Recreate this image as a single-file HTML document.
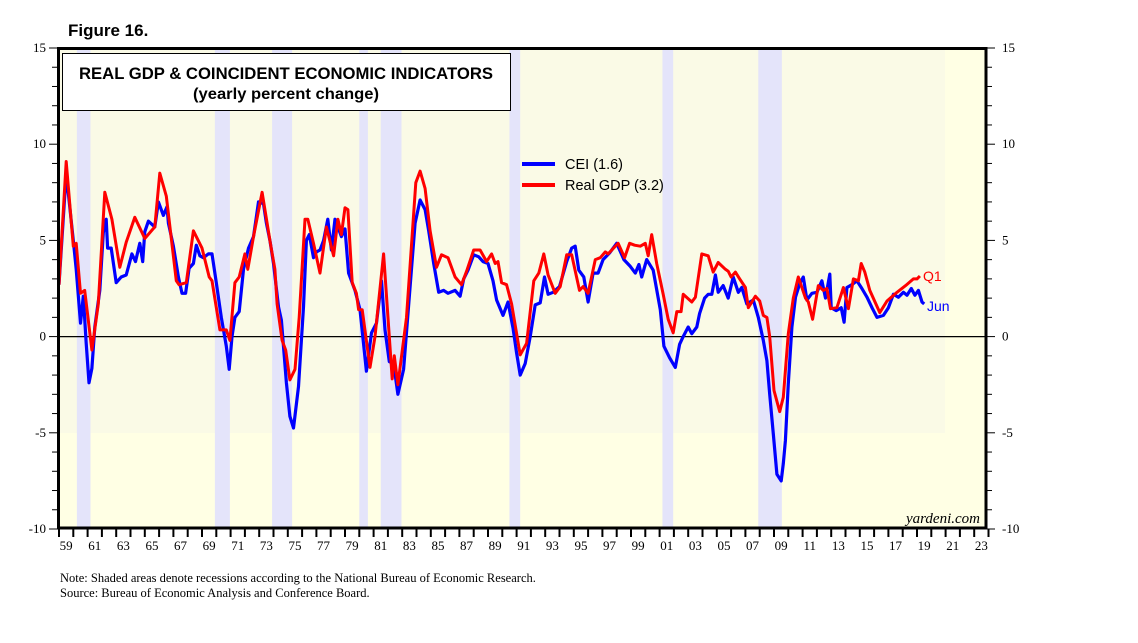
<!DOCTYPE html>
<html><head><meta charset="utf-8">
<style>
body{margin:0;background:#fff;width:1138px;height:643px;overflow:hidden;}
svg{display:block;}
</style></head>
<body>
<svg id="chart" width="1138" height="643" xmlns="http://www.w3.org/2000/svg">
<text x="68" y="36" font-family="Liberation Sans, sans-serif" font-weight="bold" font-size="17">Figure 16.</text>
<rect x="57" y="48" width="930" height="481" fill="#ffffe4"/>
<rect x="57" y="48" width="888" height="385" fill="#fafae6"/>
<g id="recessions"></g>
<g id="ticks"></g>
<line x1="57" x2="987" y1="336.6" y2="336.6" stroke="#000" stroke-width="1.2"/>
<g id="series"></g>
<rect x="58.5" y="48.5" width="927.5" height="479.5" fill="none" stroke="#000" stroke-width="3"/>
<rect x="62.5" y="53.5" width="448" height="57" fill="#fff" stroke="#000" stroke-width="1"/>
<text x="286" y="79" text-anchor="middle" font-family="Liberation Sans, sans-serif" font-weight="bold" font-size="17" textLength="414" lengthAdjust="spacingAndGlyphs">REAL GDP &amp; COINCIDENT ECONOMIC INDICATORS</text>
<text x="286" y="99" text-anchor="middle" font-family="Liberation Sans, sans-serif" font-weight="bold" font-size="16" textLength="186" lengthAdjust="spacingAndGlyphs">(yearly percent change)</text>
<g>
<line x1="522" x2="555" y1="164" y2="164" stroke="#0000ff" stroke-width="4"/>
<text x="565" y="169" font-family="Liberation Sans, sans-serif" font-size="14.5">CEI (1.6)</text>
<line x1="522" x2="555" y1="185" y2="185" stroke="#ff0000" stroke-width="4"/>
<text x="565" y="190" font-family="Liberation Sans, sans-serif" font-size="14.5">Real GDP (3.2)</text>
</g>
<text x="923" y="281" fill="#ff0000" font-family="Liberation Sans, sans-serif" font-size="14">Q1</text>
<text x="927" y="311" fill="#0000ff" font-family="Liberation Sans, sans-serif" font-size="14">Jun</text>
<text x="980" y="523" text-anchor="end" font-family="Liberation Serif, serif" font-style="italic" font-size="15">yardeni.com</text>
<text x="60" y="582" font-family="Liberation Serif, serif" font-size="12.5">Note: Shaded areas denote recessions according to the National Bureau of Economic Research.</text>
<text x="60" y="597" font-family="Liberation Serif, serif" font-size="12.5">Source: Bureau of Economic Analysis and Conference Board.</text>
</svg>
<script>
const recStart=[1960.25,1969.9,1973.9,1980.0,1981.5,1990.5,2001.2,2007.9];
const recEnd=[1961.2,1970.95,1975.3,1980.6,1982.95,1991.25,2001.95,2009.55];
const yTicks=[-10,-5,0,5,10,15];
const xYears=[];for(let y=1959;y<=2023;y+=2)xYears.push(y);
const gdpT=[1959.0,1959.5,1960.0,1960.2,1960.5,1960.8,1961.3,1961.75,1962.2,1962.7,1963.25,1963.7,1964.3,1965.0,1965.7,1966.05,1966.5,1967.2,1967.4,1967.9,1968.4,1969.0,1969.5,1969.7,1970.25,1970.7,1970.95,1971.3,1971.6,1972.0,1972.2,1972.6,1973.2,1973.75,1974.1,1974.25,1974.6,1974.85,1975.15,1975.5,1975.8,1976.2,1976.4,1976.8,1977.25,1977.7,1978.2,1978.5,1978.75,1979.0,1979.2,1979.5,1979.8,1979.95,1980.2,1980.75,1981.1,1981.7,1982.3,1982.45,1982.7,1983.3,1983.95,1984.25,1984.6,1984.95,1985.4,1985.75,1986.2,1986.7,1987.15,1987.5,1988.0,1988.45,1988.9,1989.25,1989.5,1989.7,1989.95,1990.3,1990.65,1991.25,1991.7,1992.2,1992.55,1992.9,1993.2,1993.7,1994.05,1994.5,1994.85,1995.4,1995.65,1996.0,1996.5,1996.85,1997.2,1997.4,1998.1,1998.55,1998.9,1999.25,1999.65,2000.0,2000.2,2000.45,2000.8,2001.25,2001.6,2001.95,2002.2,2002.5,2002.65,2003.25,2003.5,2003.95,2004.4,2004.75,2005.1,2005.6,2005.8,2006.0,2006.3,2006.6,2007.0,2007.2,2007.7,2008.0,2008.25,2008.5,2008.7,2009.0,2009.4,2009.65,2010.0,2010.35,2010.7,2011.2,2011.4,2011.7,2012.1,2012.45,2012.7,2012.95,2013.4,2013.85,2014.2,2014.55,2014.9,2015.1,2015.35,2015.7,2016.4,2016.9,2017.6,2018.2,2018.75,2019.0,2019.2];
const gdpV=[2.7,9.1,4.7,4.85,2.25,2.4,-0.7,1.7,7.5,6.1,3.6,4.9,6.2,5.1,5.7,8.5,7.3,2.9,2.7,2.8,5.5,4.6,3.1,2.9,0.35,0.35,-0.2,2.8,3.1,4.3,3.5,5.2,7.5,5.0,3.5,1.7,-0.2,-0.7,-2.25,-1.7,1.0,6.1,6.1,4.85,3.3,5.7,4.2,6.1,5.3,6.7,6.6,2.8,2.25,1.4,1.4,-1.6,0.0,4.3,-2.2,-1.0,-2.5,1.0,8.0,8.6,7.7,5.5,3.6,4.25,4.1,3.1,2.7,3.4,4.5,4.5,3.9,4.3,3.8,3.9,2.8,2.7,1.7,-0.95,-0.35,2.9,3.3,4.3,3.2,2.25,2.6,4.25,4.25,2.4,2.6,2.25,4.0,4.1,4.4,4.3,4.85,4.1,4.85,4.75,4.7,4.85,4.2,5.3,3.8,2.2,0.9,0.2,1.3,1.3,2.2,1.8,2.05,4.3,4.2,3.35,3.85,3.5,3.4,3.1,3.35,3.0,2.55,1.5,2.1,1.85,1.1,1.0,0.0,-2.8,-3.9,-3.15,0.15,2.0,3.1,2.0,1.8,0.9,2.65,2.4,2.5,1.45,1.5,2.55,1.45,3.0,2.9,3.8,3.35,2.4,1.25,1.85,2.3,2.65,3.0,3.0,3.15];
const ceiT=[1959.0,1959.5,1960.0,1960.2,1960.5,1960.7,1960.9,1961.1,1961.3,1961.5,1961.85,1962.1,1962.3,1962.4,1962.65,1963.0,1963.35,1963.7,1964.1,1964.35,1964.65,1964.85,1965.0,1965.25,1965.7,1965.95,1966.3,1966.55,1966.65,1967.0,1967.35,1967.6,1967.85,1968.1,1968.4,1968.6,1968.85,1969.1,1969.45,1969.7,1970.0,1970.35,1970.7,1970.9,1971.1,1971.3,1971.6,1971.9,1972.25,1972.6,1972.8,1972.95,1973.3,1973.5,1973.75,1974.0,1974.35,1974.55,1974.9,1975.15,1975.4,1975.75,1976.1,1976.3,1976.5,1976.8,1977.0,1977.25,1977.5,1977.8,1978.05,1978.3,1978.75,1979.0,1979.25,1979.7,1980.05,1980.5,1980.85,1981.2,1981.55,1981.8,1982.1,1982.4,1982.7,1983.1,1983.55,1983.9,1984.25,1984.6,1984.85,1985.2,1985.55,1985.9,1986.2,1986.7,1987.05,1987.3,1987.6,1988.0,1988.35,1988.65,1989.0,1989.35,1989.6,1990.05,1990.4,1990.75,1991.0,1991.25,1991.6,1991.95,1992.3,1992.65,1992.95,1993.2,1993.55,1994.0,1994.5,1994.85,1995.1,1995.35,1995.7,1996.0,1996.35,1996.7,1997.05,1997.5,1998.0,1998.5,1998.95,1999.3,1999.55,1999.75,2000.1,2000.55,2001.05,2001.3,2001.7,2002.1,2002.4,2002.65,2003.0,2003.25,2003.6,2003.8,2004.15,2004.4,2004.65,2004.9,2005.1,2005.45,2005.8,2006.15,2006.5,2006.75,2007.1,2007.55,2007.9,2008.25,2008.5,2008.7,2008.95,2009.2,2009.5,2009.65,2009.8,2010.0,2010.25,2010.5,2010.8,2011.05,2011.3,2011.65,2012.0,2012.35,2012.6,2012.9,2013.0,2013.35,2013.7,2013.9,2014.1,2014.45,2014.8,2015.15,2015.5,2015.85,2016.2,2016.65,2017.0,2017.35,2017.7,2018.05,2018.3,2018.6,2018.85,2019.1,2019.35,2019.5];
const ceiV=[2.7,8.5,5.0,3.5,0.7,2.1,-0.35,-2.4,-1.65,0.5,2.4,5.4,6.1,4.6,4.6,2.8,3.1,3.2,4.3,3.9,4.85,3.9,5.45,6.0,5.7,7.0,6.3,6.75,5.9,4.7,3.1,2.25,2.25,3.55,3.8,4.75,4.2,4.1,4.3,4.3,2.8,1.0,-0.5,-1.7,0.0,1.0,1.3,3.5,4.6,5.2,6.2,7.0,6.9,5.9,5.0,3.8,1.55,0.85,-2.4,-4.15,-4.75,-2.6,1.55,5.0,5.3,4.1,4.4,4.5,5.0,6.1,4.5,6.1,5.2,5.6,3.3,2.4,1.4,-1.8,0.2,0.7,2.9,0.35,-1.3,-1.4,-3.0,-1.7,2.6,5.9,7.1,6.6,5.5,3.8,2.3,2.4,2.25,2.4,2.1,3.0,3.45,4.25,4.15,3.9,3.8,2.9,1.9,1.1,1.8,0.45,-0.85,-2.0,-1.4,0.0,1.65,1.75,3.1,2.2,2.3,2.6,3.9,4.6,4.7,3.45,3.1,1.8,3.3,3.3,4.0,4.35,4.85,4.0,3.65,3.3,3.75,3.1,4.0,3.45,1.4,-0.5,-1.1,-1.6,-0.4,0.0,0.5,0.15,0.5,1.2,2.0,2.2,2.2,3.2,2.3,2.65,2.0,3.1,2.3,2.55,1.7,1.9,1.0,-0.2,-1.25,-3.0,-5.05,-7.15,-7.5,-6.6,-5.4,-2.45,0.5,2.05,2.75,3.1,1.9,2.25,2.3,2.9,2.0,3.25,1.5,1.35,1.5,0.75,2.55,2.7,2.9,2.5,2.05,1.5,1.0,1.1,1.5,2.2,2.05,2.3,2.15,2.5,2.15,2.4,1.8,1.7];

const NS='http://www.w3.org/2000/svg';
function xs(t){return 59+(t-1959)*14.3;}
function ys(v){return 336.6-v*19.24;}
function mk(tag,attrs,parent){const e=document.createElementNS(NS,tag);for(const k in attrs)e.setAttribute(k,attrs[k]);parent.appendChild(e);return e;}
const rg=document.getElementById('recessions');
for(let i=0;i<recStart.length;i++){
  const r=mk('rect',{x:xs(recStart[i]),y:49,width:xs(recEnd[i])-xs(recStart[i]),height:479,fill:'#e4e4fa'},rg);
  
  
}
const tg=document.getElementById('ticks');
for(let v=-10;v<=15;v++){
  const len=(v%5===0)?8:5;
  const a=mk('line',{x1:57-len,x2:57,y1:ys(v),y2:ys(v),stroke:'#000','stroke-width':1},tg);
  
  
  const b=mk('line',{x1:987,x2:987+len,y1:ys(v),y2:ys(v),stroke:'#000','stroke-width':1},tg);
  
  
}
yTicks.forEach(v=>{
  const l=mk('text',{x:46,y:ys(v)+4,'text-anchor':'end','font-family':'Liberation Serif, serif','font-size':13},tg);
  l.textContent=v;
  
  
  const r=mk('text',{x:1002,y:ys(v)+4,'font-family':'Liberation Serif, serif','font-size':13},tg);
  r.textContent=v;
  
  
});
for(let y=1959;y<=2024;y++){
  const t=mk('line',{x1:xs(y),x2:xs(y),y1:529,y2:537,stroke:'#000','stroke-width':2},tg);
  
  
}
xYears.forEach(y=>{
  const l=mk('text',{x:xs(y+0.5),y:550,'text-anchor':'middle','font-family':'Liberation Serif, serif','font-size':13},tg);
  l.textContent=String(y%100).padStart(2,'0');
  
  
});
const sg=document.getElementById('series');
function path(T,V){return T.map((t,i)=>(i?'L':'M')+xs(t).toFixed(1)+','+ys(V[i]).toFixed(1)).join('');}
const pc=mk('path',{d:path(ceiT,ceiV),fill:'none',stroke:'#0000ff','stroke-width':3.2,'stroke-linejoin':'round'},sg);


const pg=mk('path',{d:path(gdpT,gdpV),fill:'none',stroke:'#ff0000','stroke-width':3,'stroke-linejoin':'round'},sg);


</script>
</body></html>
